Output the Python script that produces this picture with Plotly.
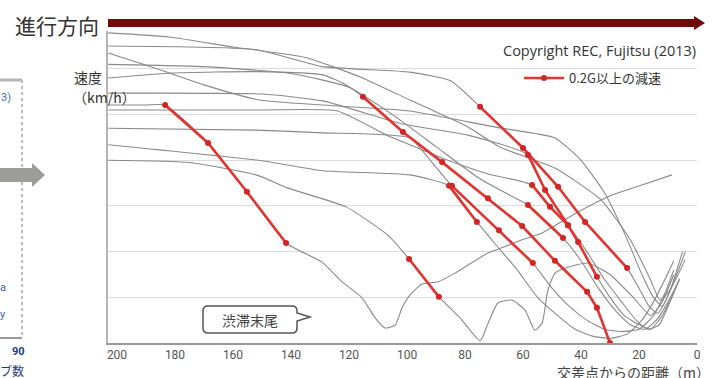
import plotly.graph_objects as go

# ---------------- data (distance to intersection [m], speed [km/h]) ----------------
x_ticks = [0, 20, 40, 60, 80, 100, 120, 140, 160, 180, 200]
x_tick_labels = [str(v) for v in x_ticks]
speed_grid = [10, 20, 30, 40, 50, 60]

# vehicle A (red segment R1, then dip near 107 m)
a_pre_d = [203, 190, 183.4]
a_pre_s = [52.1, 52.1, 52.1]
a_red_d = [183.4, 168.6, 155.2, 141.7]
a_red_s = [52.1, 43.8, 33.1, 21.9]
a_post_d = [141.7, 129.3, 122.4, 115.5, 111, 107.6, 104.1, 101.7, 99, 94.8, 89.3, 83.4, 72.1, 66.2, 60.3, 53.4, 41, 29.3, 19, 8.6]
a_post_s = [21.9, 17.7, 13.4, 9.9, 5.5, 3.3, 3.9, 7.7, 10.5, 12.9, 13.4, 15.3, 19.7, 21.1, 22.6, 24.1, 28.7, 32.4, 34.6, 36.8]

# vehicle B (red segment R2, stops near 75 m)
b_pre_d = [203, 175, 152, 141, 121, 106.6, 99.3]
b_pre_s = [40, 39.5, 36.8, 33.9, 29.8, 23.6, 18.4]
b_red_d = [99.3, 89.0]
b_red_s = [18.4, 10.1]
b_post_d = [89, 81.7, 74.8, 72, 68.6, 63.8, 59.3, 55.9, 53.4, 51.4, 49, 44.5, 37.6, 30, 22, 16, 12, 8]
b_post_s = [10.1, 5.5, 0.5, 4.4, 8.8, 9.4, 7.2, 2.8, 4.4, 11.6, 15.3, 16.6, 17.5, 15, 10, 6, 9, 15]

# vehicle C (long red segment R3)
c_pre_d = [203, 181, 152, 129, 121, 115.2]
c_pre_s = [58, 59.1, 59.4, 58.7, 56.5, 53.9]
c_red_d = [115.2, 101.4, 87.9, 72.1, 60.3, 49.0, 37.9, 34.5, 30.0]
c_red_s = [53.9, 46.2, 39.6, 31.7, 25.6, 18.0, 11.2, 7.7, 0]
c_post_d = [30.0]
c_post_s = [0]

# vehicle D (red segment R4)
d_pre_d = [203, 150, 129, 99, 85.5]
d_pre_s = [43.4, 39.9, 37.7, 36.8, 34.4]
d_red_d = [85.5, 75.9]
d_red_s = [34.4, 26.5]
d_post_d = [75.9, 70, 62, 55, 48, 42, 36, 30, 24, 19, 15, 11, 8]
d_post_s = [26.5, 22, 16, 10, 6, 3, 1.5, 1, 2, 5, 9, 14, 18]

# vehicle E (red segment R5)
e_pre_d = [203, 152, 129, 99, 92, 84.5]
e_pre_s = [47, 46.6, 46, 44.9, 40, 34.4]
e_red_d = [84.5, 68.3, 56.6]
e_red_s = [34.4, 24.7, 17.5]
e_post_d = [56.6, 50, 44, 38, 32, 26, 20, 15, 11, 8]
e_post_s = [17.5, 12, 8, 5, 3, 2.5, 3, 6, 11, 16]

# vehicle F (red segment R6)
f_pre_d = [203, 152, 129, 99, 85, 74.8]
f_pre_s = [65, 64.2, 60.5, 59.3, 57.4, 51.7]
f_red_d = [74.8, 60.0, 47.9, 38.6, 24.1]
f_red_s = [51.7, 42.7, 34.2, 26.5, 16.4]
f_post_d = [24.1, 20, 16.5, 13.5, 11, 7, 4]
f_post_s = [16.4, 12, 8, 6.5, 9, 15, 20]

# vehicle G (red segment R7)
g_pre_d = [203, 150, 129, 102, 79, 58.3]
g_pre_s = [54.7, 54.5, 53, 48, 45.5, 41.2]
g_red_d = [58.3, 52.4, 44.5, 41.0, 34.5]
g_red_s = [41.2, 33.5, 25.8, 22.1, 14.5]
g_post_d = [34.5, 30, 25, 20, 16, 12, 8]
g_post_s = [14.5, 10, 6, 4, 3, 6, 11]

# vehicle H (red segment R8)
h_pre_d = [203, 152, 124, 107, 99, 88, 72, 56.9]
h_pre_s = [51, 51, 50.8, 45.5, 43.4, 40.5, 37, 34.6]
h_red_d = [56.9, 50.7, 44.5]
h_red_s = [34.6, 29.8, 25.8]
h_post_d = [44.5, 38, 32, 26, 21, 17, 13, 10, 6]
h_post_s = [25.8, 20, 14, 9, 5, 3, 4, 8, 14]

# vehicle I (red segment R9)
i_pre_d = [203, 170, 140, 120, 105, 90, 75, 65, 58.3]
i_pre_s = [61, 60.5, 59, 56, 50, 43, 36, 32.5, 30.2]
i_red_d = [58.3, 46.2]
i_red_s = [30.2, 23.0]
i_post_d = [46.2, 40, 34, 28, 23, 18, 14, 10, 6]
i_post_s = [23, 18, 12, 7, 4, 3, 5, 9, 14]

# vehicles without strong deceleration
j_d = [203, 182, 160, 135, 116, 99, 79, 68, 49, 33, 23, 16, 12.8, 9.3, 4.1]
j_s = [67.9, 67, 64.8, 62.5, 58.2, 53.2, 47.3, 42.9, 38.3, 31.3, 22.6, 13.8, 9.4, 11.6, 18.2]
k_d = [203, 187, 170, 151, 129, 99, 79, 68, 49, 40, 32, 25, 19, 15, 12, 9, 5]
k_s = [63.5, 60.2, 56.5, 53.2, 52.1, 50.8, 48.4, 47.1, 44.9, 40, 33, 24, 15, 10, 8, 12, 20]

vehicles = [
    (a_pre_d, a_pre_s, a_red_d, a_red_s, a_post_d, a_post_s),
    (b_pre_d, b_pre_s, b_red_d, b_red_s, b_post_d, b_post_s),
    (c_pre_d, c_pre_s, c_red_d, c_red_s, c_post_d, c_post_s),
    (d_pre_d, d_pre_s, d_red_d, d_red_s, d_post_d, d_post_s),
    (e_pre_d, e_pre_s, e_red_d, e_red_s, e_post_d, e_post_s),
    (f_pre_d, f_pre_s, f_red_d, f_red_s, f_post_d, f_post_s),
    (g_pre_d, g_pre_s, g_red_d, g_red_s, g_post_d, g_post_s),
    (h_pre_d, h_pre_s, h_red_d, h_red_s, h_post_d, h_post_s),
    (i_pre_d, i_pre_s, i_red_d, i_red_s, i_post_d, i_post_s),
]
plain_vehicles = [(j_d, j_s), (k_d, k_s)]

# ---------------- figure ----------------
W, H = 713, 378
L, R, T, B = 108, 697, 31, 343


def px(x):
    return (x - L) / (R - L)


def py(y):
    return (B - y) / (B - T)


GRAY = '#8a8a8a'
RED = '#e3342f'
RED_DARK = '#d42525'
FONT = 'Noto Sans CJK JP, sans-serif'

fig = go.Figure()

gray_profiles = []
for pre_d, pre_s, red_d, red_s, post_d, post_s in vehicles:
    gray_profiles.append((pre_d[:-1] + red_d + post_d[1:], pre_s[:-1] + red_s + post_s[1:]))
gray_profiles += plain_vehicles

for d, s in gray_profiles:
    fig.add_trace(go.Scatter(x=d, y=s, mode='lines',
                             line=dict(color=GRAY, width=1.1, shape='spline', smoothing=0.5),
                             showlegend=False, hoverinfo='skip'))

for i, (pre_d, pre_s, red_d, red_s, post_d, post_s) in enumerate(vehicles):
    fig.add_trace(go.Scatter(x=red_d, y=red_s, mode='lines+markers',
                             line=dict(color=RED, width=2.6),
                             marker=dict(size=6, color=RED_DARK),
                             name='0.2G以上の減速', legendgroup='red',
                             showlegend=(i == 0), hoverinfo='skip'))

shapes = []
# direction arrow
arrow_path = (f"M {px(108)},{py(19)} L {px(694)},{py(19)} L {px(694)},{py(16)} "
              f"L {px(705)},{py(23)} L {px(694)},{py(30)} L {px(694)},{py(27)} "
              f"L {px(108)},{py(27)} Z")
shapes.append(dict(type='path', xref='paper', yref='paper', path=arrow_path,
                   fillcolor='#6e0a0a', line=dict(width=0)))
# callout box
callout = (f"M {px(208)},{py(306)} L {px(292)},{py(306)} Q {px(297)},{py(306)} {px(297)},{py(311)} "
           f"L {px(297)},{py(313)} L {px(310)},{py(317)} L {px(297)},{py(321)} "
           f"L {px(297)},{py(328)} Q {px(297)},{py(333)} {px(292)},{py(333)} "
           f"L {px(208)},{py(333)} Q {px(203)},{py(333)} {px(203)},{py(328)} "
           f"L {px(203)},{py(311)} Q {px(203)},{py(306)} {px(208)},{py(306)} Z")
shapes.append(dict(type='path', xref='paper', yref='paper', path=callout,
                   fillcolor='white', line=dict(color='#555555', width=1.5)))
# fragment of neighbouring figure on the far left
shapes.append(dict(type='line', xref='paper', yref='paper', x0=px(0), x1=px(22), y0=py(80), y1=py(80),
                   line=dict(color='#b5b5b5', width=3)))
shapes.append(dict(type='line', xref='paper', yref='paper', x0=px(22), x1=px(22), y0=py(80), y1=py(337),
                   line=dict(color='#bdbdbd', width=2, dash='dot')))
shapes.append(dict(type='line', xref='paper', yref='paper', x0=px(0), x1=px(22), y0=py(338), y1=py(338),
                   line=dict(color='#9a9a9a', width=2)))
left_arrow = (f"M {px(0)},{py(168)} L {px(32)},{py(168)} L {px(32)},{py(163)} L {px(45)},{py(175)} "
              f"L {px(32)},{py(187)} L {px(32)},{py(182)} L {px(0)},{py(182)} Z")
shapes.append(dict(type='path', xref='paper', yref='paper', path=left_arrow,
                   fillcolor='#9d9d97', line=dict(width=0)))

annotations = [
    dict(text='進行方向', x=px(13), y=py(25), xanchor='left', yanchor='middle',
         font=dict(size=21, color='#333333', family=FONT)),
    dict(text='速度', x=px(104), y=py(77), xanchor='right', yanchor='middle',
         font=dict(size=14, color='#333333', family=FONT)),
    dict(text='（km/h）', x=px(71), y=py(97), xanchor='left', yanchor='middle',
         font=dict(size=14, color='#333333', family=FONT)),
    dict(text='Copyright REC, Fujitsu (2013)', x=px(698), y=py(50), xanchor='right', yanchor='middle',
         font=dict(size=14.5, color='#333333', family='Open Sans, sans-serif')),
    dict(text='渋滞末尾', x=px(250), y=py(319.5), xanchor='center', yanchor='middle',
         font=dict(size=14, color='#444444', family=FONT)),
    dict(text='交差点からの距離（m）', x=px(712), y=py(372.5), xanchor='right', yanchor='middle',
         font=dict(size=14, color='#444444', family=FONT)),
    dict(text='3)', x=px(13), y=py(97), xanchor='right', yanchor='middle',
         font=dict(size=11, color='#3a6fc4', family='Roboto, sans-serif')),
    dict(text='a', x=px(8), y=py(287), xanchor='right', yanchor='middle',
         font=dict(size=11, color='#3a5fb0', family='Roboto, sans-serif')),
    dict(text='y', x=px(8), y=py(314), xanchor='right', yanchor='middle',
         font=dict(size=11, color='#3a5fb0', family='Roboto, sans-serif')),
    dict(text='<b>90</b>', x=px(18), y=py(351), xanchor='center', yanchor='middle',
         font=dict(size=11, color='#1f3d7a', family='Roboto, sans-serif')),
    dict(text='ブ数', x=px(26), y=py(371), xanchor='right', yanchor='middle',
         font=dict(size=12, color='#1f3d7a', family=FONT)),
]
for a in annotations:
    a.update(xref='paper', yref='paper', showarrow=False)

fig.update_layout(
    width=W, height=H,
    margin=dict(l=L, r=W - R, t=T, b=H - B, pad=0),
    paper_bgcolor='white', plot_bgcolor='white',
    font=dict(family=FONT, color='#333333'),
    xaxis=dict(range=[203.1, 0], tickvals=x_ticks, ticktext=x_tick_labels,
               showgrid=False, zeroline=False, showline=True, linecolor='#9a9a9a', linewidth=2,
               ticks='', tickfont=dict(size=12, color='#555555', family='Roboto, sans-serif')),
    yaxis=dict(range=[0, 68.3], tickvals=speed_grid, showticklabels=False,
               showgrid=True, gridcolor='#dcdcdc', gridwidth=1, zeroline=False,
               showline=True, linecolor='#b5b5b5', linewidth=1.5, ticks=''),
    showlegend=True,
    legend=dict(x=px(519), y=py(63), xanchor='left', yanchor='top',
                bgcolor='rgba(0,0,0,0)', borderwidth=0,
                font=dict(size=13, color='#333333', family=FONT), itemwidth=40),
    shapes=shapes,
    annotations=annotations,
)

fig.write_html('out.html', config={'displayModeBar': False},
               post_script="document.body.style.margin='0';")
